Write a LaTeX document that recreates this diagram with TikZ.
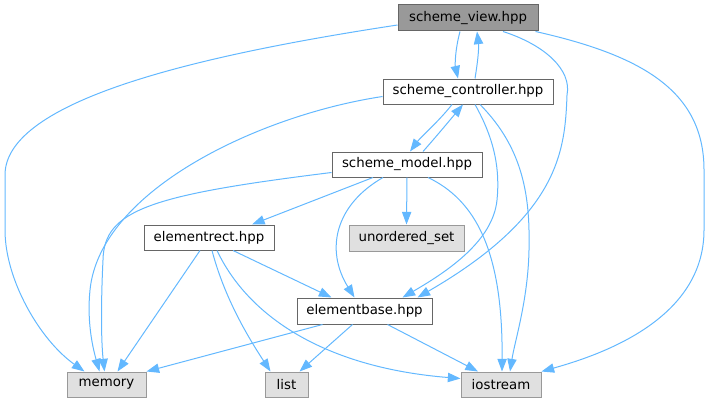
\documentclass[tikz,border=0pt]{standalone}
\usepackage{fontspec}
\setmainfont{DejaVu Sans}
\usetikzlibrary{arrows.meta,calc}
\definecolor{edgeblue}{HTML}{63B8FF}
\definecolor{boxgray}{HTML}{E0E0E0}
\definecolor{bordergray}{HTML}{999999}
\definecolor{darkborder}{HTML}{666666}
\begin{document}
\begin{tikzpicture}[x=0.75pt,y=-0.75pt,
  filebox/.style={draw=darkborder, fill=white, line width=0.75pt, inner sep=0pt,
    minimum height=18.75pt, font=\fontsize{10}{12}\selectfont},
  sysbox/.style={filebox, draw=bordergray, fill=boxgray},
  rootbox/.style={filebox, fill=bordergray},
  dep/.style={draw=edgeblue, line width=0.75pt, -{Triangle[length=9.5pt,width=7pt]}}]
\useasboundingbox (0,0) rectangle (709,403);

\node[rootbox, minimum width=105pt, minimum height=19.5pt] (view) at (468,18) {scheme\_view.hpp};
\node[filebox, minimum width=127.5pt] (ctrl) at (468,91.5) {scheme\_controller.hpp};
\node[filebox, minimum width=112.5pt] (model) at (407,164.5) {scheme\_model.hpp};
\node[sysbox, minimum width=86.25pt, minimum height=19.5pt] (uset) at (406.5,238) {unordered\_set};
\node[filebox, minimum width=97.5pt] (rect) at (209,237.5) {elementrect.hpp};
\node[filebox, minimum width=101.25pt, minimum height=19.5pt] (base) at (364.5,311) {elementbase.hpp};
\node[sysbox, minimum width=59.25pt] (memory) at (106.5,384.5) {memory};
\node[sysbox, minimum width=32.25pt] (list) at (286.5,384.5) {list};
\node[sysbox, minimum width=60pt] (iostream) at (501,384.5) {iostream};

% scheme_view.hpp
\draw[dep] ($(view.west)+(0,7)$) .. controls (200,55) and (5,100) .. (5,175)
  -- (5,230) .. controls (5,280) and (40,340) .. ($(memory.north)+(-22,0)$);
\draw[dep] ($(view.south)+(-8,0)$) .. controls (455,50) and (455,65) .. ($(ctrl.north)+(-10,0)$);
\draw[dep] ($(view.south)+(35,0)$) .. controls (545,45) and (572,70) .. (567,95)
  .. controls (565,150) and (560,215) .. ($(base.north)+(53,0)$);
\draw[dep] ($(view.south east)+(-3,0)$) .. controls (640,55) and (704,90) .. (704,170)
  -- (704,230) .. controls (704,320) and (600,355) .. (iostream.north east);

% scheme_controller.hpp
\draw[dep] ($(ctrl.north)+(7,0)$) .. controls (478,60) and (479,48) .. ($(view.south)+(9,0)$);
\draw[dep] ($(ctrl.west)+(0,5)$) .. controls (260,115) and (100,190) .. (90,290)
  .. controls (87,320) and (92,345) .. ($(memory.north)+(-7,0)$);
\draw[dep] ($(ctrl.south)+(-16,0)$) .. controls (440,120) and (420,138) .. ($(model.north)+(3,0)$);
\draw[dep] ($(ctrl.south)+(7,0)$) .. controls (495,140) and (500,170) .. (497,200)
  .. controls (493,240) and (450,270) .. ($(base.north)+(38,0)$);
\draw[dep] ($(ctrl.south)+(12,0)$) .. controls (525,150) and (530,200) .. (529,250)
  .. controls (528,300) and (515,340) .. ($(iostream.north)+(9,0)$);

% scheme_model.hpp
\draw[dep] ($(model.north)+(16,0)$) .. controls (435,138) and (450,120) .. ($(ctrl.south)+(-5,0)$);
\draw[dep] ($(model.west)+(0,8)$) .. controls (150,195) and (104,210) .. (103,260)
  .. controls (101,300) and (101,340) .. ($(memory.north)+(-2,0)$);
\draw[dep] ($(model.south)+(-34,0)$) -- ($(rect.north)+(43,0)$);
\draw[dep] (model.south) -- (uset.north);
\draw[dep] ($(model.south)+(-24,0)$) .. controls (335,205) and (325,250) .. ($(base.north)+(-10,0)$);
\draw[dep] ($(model.south)+(21,0)$) .. controls (475,200) and (503,250) .. ($(iostream.north)+(1,0)$);

% elementrect.hpp
\draw[dep] ($(rect.south)+(-9,0)$) -- ($(memory.north)+(11,0)$);
\draw[dep] ($(rect.south)+(3,0)$) .. controls (225,300) and (250,340) .. ($(list.north)+(-16,0)$);
\draw[dep] ($(rect.south)+(8,0)$) .. controls (250,320) and (330,368) .. ($(iostream.west)+(0,-6)$);
\draw[dep] ($(rect.south)+(24,0)$) -- ($(base.north)+(-33,0)$);

% elementbase.hpp
\draw[dep] ($(base.south)+(-42,0)$) -- (memory.north east);
\draw[dep] ($(base.south)+(-12,0)$) -- ($(list.north)+(13,0)$);
\draw[dep] ($(base.south)+(23,0)$) -- ($(iostream.north)+(-23,0)$);
\end{tikzpicture}
\end{document}
